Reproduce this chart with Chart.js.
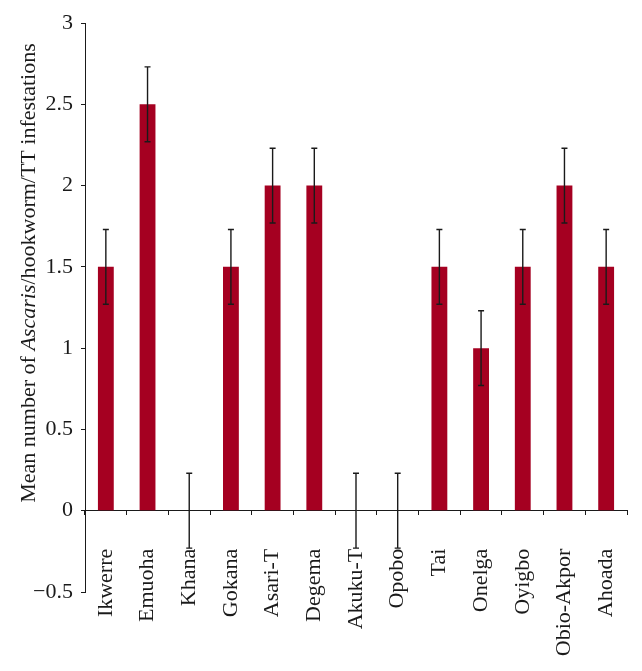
<!DOCTYPE html>
<html>
<head>
<meta charset="utf-8">
<script src="https://cdn.jsdelivr.net/npm/chart.js@4/dist/chart.umd.min.js"></script>
<style>
  html, body { margin: 0; padding: 0; background: #fff; }
  #wrap { width: 642px; height: 671px; position: relative; }
</style>
</head>
<body>
<div id="wrap"><canvas id="chart"></canvas></div>
<script>
// ── Data ──────────────────────────────────────────────────────────────────
const categories = ['Ikwerre', 'Emuoha', 'Khana', 'Gokana', 'Asari-T', 'Degema',
                    'Akuku-T', 'Opobo', 'Tai', 'Onelga', 'Oyigbo', 'Obio-Akpor', 'Ahoada'];
const means  = [1.5, 2.5, 0, 1.5, 2, 2, 0, 0, 1.5, 1, 1.5, 2, 1.5];
const errors = [0.23, 0.23, 0.23, 0.23, 0.23, 0.23, 0.23, 0.23, 0.23, 0.23, 0.23, 0.23, 0.23];
const yTicks = [-0.5, 0, 0.5, 1, 1.5, 2, 2.5, 3];

const FONT = "'Liberation Serif', 'Times New Roman', serif";
const BAR  = '#A50021';
const INK  = '#1a1a1a';

// ── Error bars ────────────────────────────────────────────────────────────
const errorBars = {
  id: 'errorBars',
  afterDatasetsDraw(chart) {
    const meta = chart.getDatasetMeta(0);
    const y = chart.scales.y;
    const ctx = chart.ctx;
    ctx.save();
    ctx.strokeStyle = INK;
    ctx.lineWidth = 1.4;
    meta.data.forEach((bar, i) => {
      const top = y.getPixelForValue(means[i] + errors[i]);
      const bot = y.getPixelForValue(means[i] - errors[i]);
      ctx.beginPath();
      ctx.moveTo(bar.x, top); ctx.lineTo(bar.x, bot);
      ctx.moveTo(bar.x - 3, top); ctx.lineTo(bar.x + 3, top);
      ctx.moveTo(bar.x - 3, bot); ctx.lineTo(bar.x + 3, bot);
      ctx.stroke();
    });
    ctx.restore();
  }
};

// ── Y title with italic part ──────────────────────────────────────────────
const yTitle = {
  id: 'yTitle',
  afterDraw(chart) {
    const ctx = chart.ctx;
    const parts = [
      ['Mean number of ', ''],
      ['Ascaris', 'italic '],
      ['/hookworm/TT infestations', '']
    ];
    ctx.save();
    ctx.fillStyle = INK;
    ctx.textBaseline = 'middle';
    let total = 0;
    parts.forEach(p => { ctx.font = p[1] + '22px ' + FONT; total += ctx.measureText(p[0]).width; });
    ctx.translate(29, chart.chartArea.top + 250);
    ctx.rotate(-Math.PI / 2);
    let x = -total / 2;
    parts.forEach(p => {
      ctx.font = p[1] + '22px ' + FONT;
      ctx.fillText(p[0], x, 0);
      x += ctx.measureText(p[0]).width;
    });
    ctx.restore();
  }
};

new Chart(document.getElementById('chart'), {
  type: 'bar',
  data: {
    labels: categories,
    datasets: [{
      data: means,
      backgroundColor: BAR,
      borderWidth: 0,
      barPercentage: 0.38,
      categoryPercentage: 1.0,
    }]
  },
  options: {
    responsive: true,
    maintainAspectRatio: false,
    animation: false,
    layout: { padding: { left: 0, top: 23, right: 15, bottom: 79 } },
    plugins: { legend: { display: false }, tooltip: { enabled: false } },
    scales: {
      x: {
        position: { y: 0 },
        afterFit(scale) { scale.paddingLeft = 0; scale.paddingRight = 0; },
        grid: { display: true, drawOnChartArea: false, drawTicks: true, tickLength: 4, offset: true, color: INK },
        border: { display: true, color: INK, width: 1 },
        ticks: {
          color: INK, font: { family: FONT, size: 22 },
          minRotation: 90, maxRotation: 90, padding: 34, autoSkip: false
        }
      },
      y: {
        min: -0.5, max: 3,
        afterFit(scale) { scale.width = 85; },
        afterBuildTicks(scale) { scale.ticks = yTicks.map(v => ({ value: v })); },
        grid: { display: true, drawOnChartArea: false, drawTicks: true, tickLength: 4, color: INK },
        border: { display: true, color: INK, width: 1 },
        ticks: {
          color: INK, font: { family: FONT, size: 22 }, padding: 8,
          callback: v => String(v).replace('-', '\u2212')
        }
      }
    }
  },
  plugins: [errorBars, yTitle]
});
</script>
</body>
</html>
